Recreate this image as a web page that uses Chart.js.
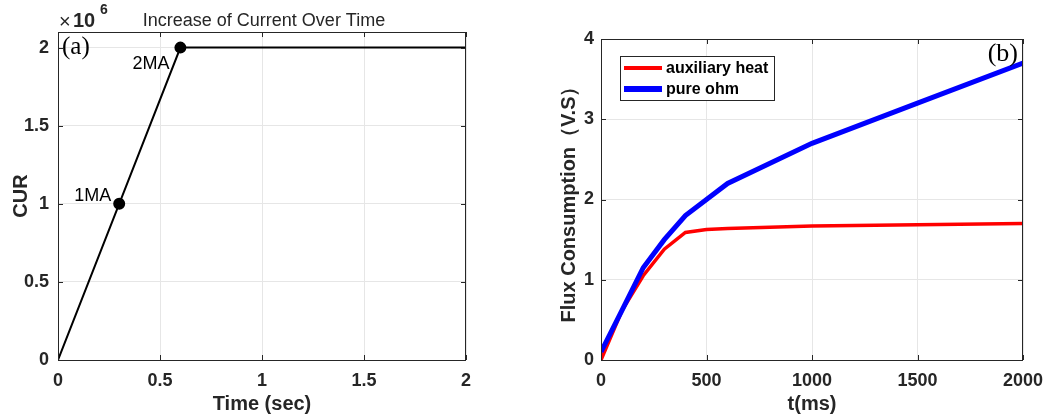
<!DOCTYPE html>
<html>
<head>
<meta charset="utf-8">
<script src="https://cdn.jsdelivr.net/npm/chart.js@4.4.0/dist/chart.umd.min.js"></script>
<style>
  body { margin: 0; background: #fff; width: 1046px; height: 418px; position: relative; overflow: hidden; }
  #wrapA { position: absolute; left: 0; top: 0; width: 500px; height: 418px; }
  #wrapB { position: absolute; left: 540px; top: 0; width: 506px; height: 418px; }
</style>
</head>
<body>
<div id="wrapA"><canvas id="chartA"></canvas></div>
<div id="wrapB"><canvas id="chartB"></canvas></div>
<script>
// (a) current ramp
const timeSec = [0, 0.3, 0.6, 2];
const current = [0, 1e6, 2e6, 2e6];
const pointNames = ['', '1MA', '2MA', ''];
const xTicksA = [0, 0.5, 1, 1.5, 2];
const yTicksA = [0, 0.5e6, 1e6, 1.5e6, 2e6];

// (b) flux consumption
const timeMs = [0, 100, 200, 300, 400, 500, 600, 1000, 1500, 2000];
const auxHeat = [0, 0.62, 1.05, 1.38, 1.59, 1.625, 1.64, 1.67, 1.685, 1.70];
const pureOhm = [0.1, 0.62, 1.15, 1.5, 1.8, 2.0, 2.2, 2.7, 3.2, 3.7];
const xTicksB = [0, 500, 1000, 1500, 2000];
const yTicksB = [0, 1, 2, 3, 4];

const SANS = 'Liberation Sans, Arial, sans-serif';
const SERIF = 'Liberation Serif, Times New Roman, serif';
const INK = '#262626';
const tickFont = { family: SANS, size: 18, weight: 'bold' };
const titleFont = { family: SANS, size: 20, weight: 'bold' };

function fixedTicks(list) {
  return scale => { scale.ticks = list.map(v => ({ value: v })); };
}

// keep the plot area where we put it, no room for overhanging labels
function fitX(scale) {
  scale.height = 58;
  scale.paddingLeft = 0;
  scale.paddingRight = 0;
}
function fitY(w) {
  return scale => {
    scale.width = w;
    scale.paddingTop = 0;
    scale.paddingBottom = 0;
  };
}

// box around the plot area with MATLAB-style inward ticks
const frame = {
  id: 'frame',
  afterDraw(chart) {
    const { ctx, chartArea: a, scales: { x, y } } = chart;
    ctx.save();
    ctx.strokeStyle = INK;
    ctx.lineWidth = 1;
    ctx.strokeRect(a.left + 0.5, a.top + 0.5, a.right - a.left - 1, a.bottom - a.top);
    ctx.beginPath();
    x.ticks.forEach(t => {
      const px = Math.round(x.getPixelForValue(t.value)) + 0.5;
      ctx.moveTo(px, a.bottom); ctx.lineTo(px, a.bottom - 5);
      ctx.moveTo(px, a.top); ctx.lineTo(px, a.top + 5);
    });
    y.ticks.forEach(t => {
      const py = Math.round(y.getPixelForValue(t.value)) + 0.5;
      ctx.moveTo(a.left, py); ctx.lineTo(a.left + 5, py);
      ctx.moveTo(a.right, py); ctx.lineTo(a.right - 5, py);
    });
    ctx.stroke();
    ctx.restore();
  }
};

const notesA = {
  id: 'notesA',
  afterDraw(chart) {
    const { ctx, chartArea: a, scales: { x, y } } = chart;
    ctx.save();
    ctx.fillStyle = '#000';
    ctx.textBaseline = 'middle';
    // point labels
    ctx.font = '18px ' + SANS;
    ctx.textAlign = 'right';
    pointNames.forEach((name, i) => {
      if (!name) return;
      const px = x.getPixelForValue(timeSec[i]);
      const py = y.getPixelForValue(current[i]);
      if (i === 1) ctx.fillText(name, px - 8, py - 8);
      else ctx.fillText(name, px - 11, py + 16);
    });
    // title
    ctx.textAlign = 'center';
    ctx.textBaseline = 'alphabetic';
    ctx.fillStyle = INK;
    ctx.font = '18px ' + SANS;
    ctx.fillText('Increase of Current Over Time', (a.left + a.right) / 2 + 2, 26);
    // exponent
    ctx.textAlign = 'left';
    ctx.font = '20px ' + SANS;
    ctx.fillText('\u00d7', a.left + 1, 28);
    ctx.font = 'bold 20px ' + SANS;
    ctx.fillText('10', a.left + 15, 27);
    ctx.font = 'bold 14px ' + SANS;
    ctx.fillText('6', a.left + 42, 14);
    // panel tag
    ctx.fillStyle = '#000';
    ctx.font = '25px ' + SERIF;
    ctx.textBaseline = 'middle';
    ctx.fillText('(a)', a.left + 4, 47);
    ctx.restore();
  }
};

const notesB = {
  id: 'notesB',
  afterDraw(chart) {
    const { ctx, chartArea: a } = chart;
    ctx.save();
    // legend
    const lx = a.left + 19, ly = a.top + 17, lw = 154, lh = 44;
    ctx.fillStyle = '#fff';
    ctx.fillRect(lx, ly, lw, lh);
    ctx.strokeStyle = INK;
    ctx.lineWidth = 1;
    ctx.strokeRect(lx + 0.5, ly + 0.5, lw, lh);
    const items = [
      { label: 'auxiliary heat', color: '#ff0000', w: 4, yy: ly + 12 },
      { label: 'pure ohm', color: '#0000ff', w: 6, yy: ly + 33 }
    ];
    ctx.font = 'bold 16px ' + SANS;
    ctx.textAlign = 'left';
    ctx.textBaseline = 'middle';
    items.forEach(it => {
      ctx.strokeStyle = it.color;
      ctx.lineWidth = it.w;
      ctx.beginPath();
      ctx.moveTo(lx + 4, it.yy); ctx.lineTo(lx + 42, it.yy);
      ctx.stroke();
      ctx.fillStyle = '#000';
      ctx.fillText(it.label, lx + 46, it.yy + 1);
    });
    // panel tag
    ctx.font = '26px ' + SERIF;
    ctx.textAlign = 'right';
    ctx.fillText('(b)', a.right - 5, a.top + 15);
    ctx.restore();
  }
};

new Chart(document.getElementById('chartA'), {
  type: 'line',
  data: {
    datasets: [{
      data: timeSec.map((t, i) => ({ x: t, y: current[i] })),
      borderColor: '#000',
      backgroundColor: '#000',
      borderWidth: 2,
      pointRadius: pointNames.map(n => n ? 5 : 0),
      tension: 0
    }]
  },
  options: {
    responsive: true,
    maintainAspectRatio: false,
    animation: false,
    layout: { padding: { top: 32, right: 34, left: 0, bottom: 0 } },
    plugins: { legend: { display: false }, tooltip: { enabled: false } },
    scales: {
      x: {
        type: 'linear', min: 0, max: 2,
        afterBuildTicks: fixedTicks(xTicksA),
        afterFit: fitX,
        grid: { color: '#e6e6e6', drawTicks: false },
        border: { display: false },
        ticks: { font: tickFont, color: INK, padding: 10, maxRotation: 0,
                 callback: v => String(v) },
        title: { display: true, text: 'Time (sec)', font: titleFont, color: INK,
                 padding: { top: 0, bottom: 2 } }
      },
      y: {
        type: 'linear', min: 0, max: 2.1e6,
        afterBuildTicks: fixedTicks(yTicksA),
        afterFit: fitY(58),
        grid: { color: '#e6e6e6', drawTicks: false },
        border: { display: false },
        ticks: { font: tickFont, color: INK, padding: 9,
                 callback: v => String(v / 1e6) },
        title: { display: true, text: 'CUR', font: titleFont, color: INK,
                 padding: { top: 9, bottom: 0 } }
      }
    }
  },
  plugins: [frame, notesA]
});

new Chart(document.getElementById('chartB'), {
  type: 'line',
  data: {
    datasets: [
      {
        label: 'auxiliary heat',
        data: timeMs.map((t, i) => ({ x: t, y: auxHeat[i] })),
        borderColor: '#ff0000',
        borderWidth: 3.5,
        pointRadius: 0,
        tension: 0,
        order: 1
      },
      {
        label: 'pure ohm',
        data: timeMs.map((t, i) => ({ x: t, y: pureOhm[i] })),
        borderColor: '#0000ff',
        borderWidth: 5,
        pointRadius: 0,
        tension: 0,
        order: 0
      }
    ]
  },
  options: {
    responsive: true,
    maintainAspectRatio: false,
    animation: false,
    layout: { padding: { top: 39, right: 23, left: 0, bottom: 0 } },
    plugins: { legend: { display: false }, tooltip: { enabled: false } },
    scales: {
      x: {
        type: 'linear', min: 0, max: 2000,
        afterBuildTicks: fixedTicks(xTicksB),
        afterFit: fitX,
        grid: { color: '#e6e6e6', drawTicks: false },
        border: { display: false },
        ticks: { font: tickFont, color: INK, padding: 10, maxRotation: 0,
                 callback: v => String(v) },
        title: { display: true, text: 't(ms)', font: titleFont, color: INK,
                 padding: { top: 0, bottom: 2 } }
      },
      y: {
        type: 'linear', min: 0, max: 4,
        afterBuildTicks: fixedTicks(yTicksB),
        afterFit: fitY(61),
        grid: { color: '#e6e6e6', drawTicks: false },
        border: { display: false },
        ticks: { font: tickFont, color: INK, padding: 7,
                 callback: v => String(v) },
        title: { display: true, text: 'Flux Consumption\uff08V.S\uff09', font: titleFont, color: INK,
                 padding: { top: 17, bottom: 0 } }
      }
    }
  },
  plugins: [frame, notesB]
});
</script>
</body>
</html>
